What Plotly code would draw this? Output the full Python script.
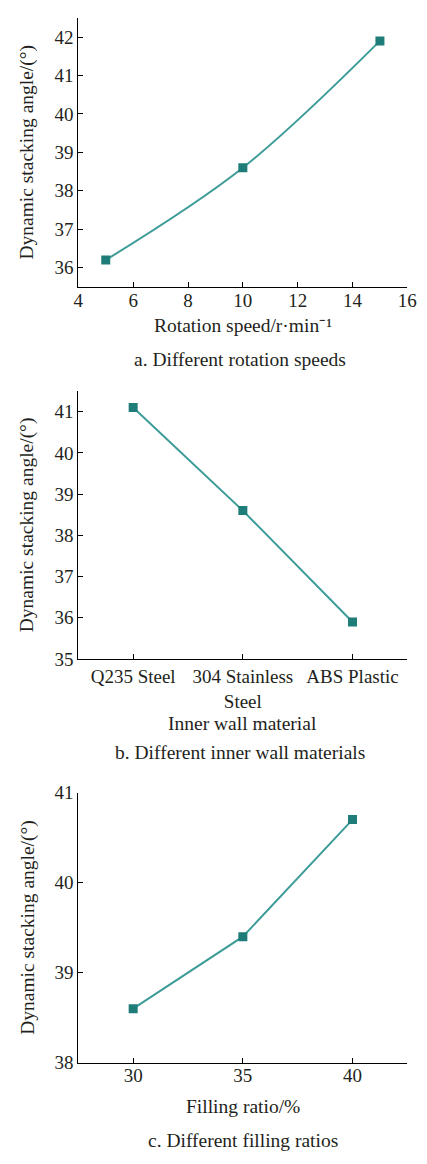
import plotly.graph_objects as go

# Panel a: rotation speed
speed = [5, 10, 15]
angle_speed = [36.2, 38.6, 41.9]

# Panel b: inner wall material
materials = ["Q235 Steel", "304 Stainless<br>Steel", "ABS Plastic"]
angle_material = [41.1, 38.6, 35.9]

# Panel c: filling ratio
filling = [30, 35, 40]
angle_filling = [38.6, 39.4, 40.7]

W, H = 427, 1164
FONT = "Liberation Serif"
TXT = "#231f20"
LINE_C = "#3d9c98"
MARK_C = "#1f7d79"
TICK_SIZE = 19
TITLE_SIZE = 19.5


def py(px):
    return 1 - px / H


fig = go.Figure()

common_trace = dict(
    mode="lines+markers",
    line=dict(color=LINE_C, width=2),
    marker=dict(symbol="square", size=9, color=MARK_C),
    showlegend=False,
    hoverinfo="x+y",
)

fig.add_trace(go.Scatter(x=speed, y=angle_speed, xaxis="x", yaxis="y",
                         line_shape="spline", **common_trace))
fig.add_trace(go.Scatter(x=[0, 1, 2], y=angle_material, xaxis="x2", yaxis="y2",
                         **common_trace))
fig.add_trace(go.Scatter(x=filling, y=angle_filling, xaxis="x3", yaxis="y3",
                         **common_trace))

xdom = [76 / W, 417 / W]
axis_style = dict(
    showline=True, linecolor="black", linewidth=1, mirror=False,
    ticks="inside", ticklen=5, tickcolor="black", tickwidth=1,
    showgrid=False, zeroline=False,
    tickfont=dict(family=FONT, size=TICK_SIZE, color=TXT),
)
x_style = dict(axis_style, ticklabelstandoff=-4)

fig.update_layout(
    width=W, height=H,
    margin=dict(l=0, r=0, t=0, b=0),
    paper_bgcolor="white", plot_bgcolor="white",
    xaxis=dict(domain=xdom, anchor="y", range=[4, 16], tickvals=[4, 6, 8, 10, 12, 14, 16], **x_style),
    yaxis=dict(domain=[py(282), py(8)], anchor="x", range=[35.5, 42.5],
               tickvals=[36, 37, 38, 39, 40, 41, 42], **axis_style),
    xaxis2=dict(domain=xdom, anchor="y2", range=[-0.5, 2.5], tickvals=[0, 1, 2],
                ticktext=materials, **axis_style),
    yaxis2=dict(domain=[py(661), py(388)], anchor="x2", range=[35, 41.5],
                tickvals=[35, 36, 37, 38, 39, 40, 41], **axis_style),
    xaxis3=dict(domain=xdom, anchor="y3", range=[27.5, 42.5], tickvals=[30, 35, 40], **x_style),
    yaxis3=dict(domain=[py(1072), py(797)], anchor="x3", range=[38, 41],
                tickvals=[38, 39, 40, 41], **axis_style),
)

xc = (xdom[0] + xdom[1]) / 2
ytitle = "Dynamic stacking angle/(°)"
labels = [
    # (text, x, y_px, angle)
    ("Rotation speed/r·min⁻¹", xc, 321, 0),
    ("a. Different rotation speeds", xc - 0.008, 356, 0),
    ("Inner wall material", xc, 727, 0),
    ("b. Different inner wall materials", xc - 0.008, 756, 0),
    ("Filling ratio/%", xc, 1117, 0),
    ("c. Different filling ratios", xc, 1151, 0),
    (ytitle, 23 / W, 145, -90),
    (ytitle, 23 / W, 524.5, -90),
    (ytitle, 23 / W, 934.5, -90),
]
for text, x, ypx, ang in labels:
    fig.add_annotation(
        text=text, x=x, y=py(ypx), xref="paper", yref="paper",
        xanchor="center", yanchor="middle", showarrow=False, textangle=ang,
        font=dict(family=FONT, size=TITLE_SIZE, color=TXT),
    )

fig.write_html("out.html")
